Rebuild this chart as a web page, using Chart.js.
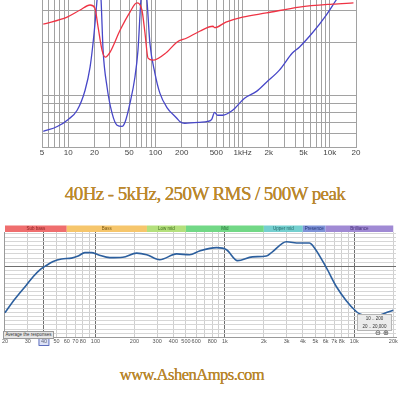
<!DOCTYPE html>
<html>
<head>
<meta charset="utf-8">
<script src="https://cdn.jsdelivr.net/npm/chart.js@4.4.1/dist/chart.umd.min.js"></script>
<style>
  html, body { margin:0; padding:0; background:#fff; }
  body { width:400px; height:400px; position:relative; overflow:hidden; }
  canvas { position:absolute; }
  .spec { position:absolute; left:0; width:410px; text-align:center; font-family:'Liberation Serif','DejaVu Serif',serif; color:#bf8a2a; white-space:nowrap; text-shadow:0 0 0.6px #8a5e14; }
  .ui { position:absolute; font-family:'Liberation Sans',sans-serif; color:#333; white-space:nowrap; }
</style>
</head>
<body>
<canvas id="topChart" width="400" height="159" style="left:0;top:0"></canvas>
<div class="spec" style="top:183px;font-size:19px;letter-spacing:-0.6px">40Hz - 5kHz, 250W RMS / 500W peak</div>
<canvas id="bottomChart" width="400" height="126" style="left:0;top:220px"></canvas>
<div class="ui" style="left:3px;top:331px;width:49px;height:6px;background:#e6e6e6;border:1px solid #9a9a9a;font-size:4.5px;line-height:6px;text-align:center">Average the responses</div>
<div class="ui" style="left:357px;top:314px;width:33px;height:15px;background:#ececec;border:1px solid #b5b5b5;font-size:4.5px;line-height:7.5px;text-align:center">10 .. 200<br>20 .. 20,000</div>
<div class="ui" style="left:375px;top:329px;font-size:7px;color:#444;font-family:'DejaVu Sans',sans-serif">⊖ ⊕</div>
<div class="spec" style="top:365px;width:384px;font-size:16.5px;letter-spacing:-0.5px">www.AshenAmps.com</div>

<script>
// ---------- Top chart (impedance-style sweep) ----------
const topBlueFreq = [5.17, 7.48, 10, 12.65, 15.6, 17.8, 19.8, 21.4, 22.7, 23.8, 25.1, 27.9, 31.8, 36.3, 41.4, 44.8, 51.1, 58.2, 63.1, 68.2, 73.8, 79.9, 86.4, 98.6, 112.5, 135, 176, 190, 217, 322, 397, 442, 478, 517, 590, 769, 1053, 1445, 1880, 2645, 3723, 4476, 6300, 9118, 11860, 14630];
const topBlueLevel = [5.4, 7.1, 9.5, 12.6, 19.4, 27.2, 38.8, 50, 58, 50, 33, 20.4, 11.6, 7.5, 7.1, 8.5, 15.0, 23.8, 33, 50, 58, 50, 35.4, 25.2, 18.4, 13.6, 9.9, 8.8, 8.2, 8.5, 8.8, 9.5, 11.9, 10.9, 10.9, 12.6, 16.7, 19.0, 22.1, 26.2, 32.0, 34.0, 38.8, 44.9, 50, 54];
const topRedFreq = [5.17, 9.7, 13.7, 17.8, 20.2, 22.0, 24.4, 26.6, 30.2, 39.4, 51.1, 61.2, 70.0, 75.9, 82.3, 93.5, 135, 176, 229, 322, 457, 478, 644, 1000, 1880, 4476, 10700, 18700];
const topRedLevel = [41.8, 44.2, 46.6, 48.3, 47.3, 40.8, 33, 30.6, 32.3, 39.8, 45.9, 49, 46.6, 38.8, 30.3, 29.6, 32.3, 35.7, 37.1, 39.4, 41.1, 40.6, 42.5, 44.2, 45.6, 47.6, 48.6, 49];
const topGridFreq = [5,6,7,8,9,10,20,30,40,50,60,70,80,90,100,200,300,400,500,600,700,800,900,1000,2000,3000,4000,5000,6000,7000,8000,9000,10000,20000];
const topLabelFreq = [5, 10, 20, 50, 100, 200, 500, 1000, 2000, 5000, 10000, 20000];
const topLabelText = ['5', '10', '20', '50', '100', '200', '500', '1kHz', '2k', '5k', '10k', '20'];
const topGridLevels = [0, 4.8, 8.5, 11.9, 15.0, 17.7, 35.7, 46.6];

// ---------- Bottom chart (frequency response) ----------
const respFreq = [20, 23.2, 26.1, 29.4, 33.1, 37.2, 40.7, 47.1, 54.7, 65.3, 73.5, 82.8, 93.2, 104.8, 129, 162.6, 208, 249, 313, 424, 534, 637, 863, 1030, 1252, 1632, 2094, 2330, 2986, 3760, 4494, 4910, 6080, 7260, 8670, 10350, 10920, 14260, 17940, 20000];
const respDb = [-11.1, -8.3, -6.3, -4.4, -2.4, -0.8, 0, 1.2, 1.8, 2.0, 2.5, 3.3, 3.3, 2.8, 2.1, 2.2, 3.2, 2.8, 1.6, 3.0, 2.8, 3.7, 4.5, 4.0, 1.4, 2.3, 2.5, 3.5, 5.9, 5.6, 5.6, 4.5, -0.3, -4.8, -8.2, -10.8, -11.3, -12.0, -11.0, -10.5];
const bottomGridFreq = [20,30,40,50,60,70,80,90,100,200,300,400,500,600,700,800,900,1000,2000,3000,4000,5000,6000,7000,8000,9000,10000,20000];
const bottomLabelFreq = [20,30,40,50,60,70,80,100,200,300,400,500,600,800,1000,2000,3000,4000,5000,6000,7000,8000,10000,20000];
const bottomLabelText = ['20','30','40','50','60','70','80','100','200','300','400','500','600','800','1k','2k','3k','4k','5k','6k','7k','8k','10k','20k'];
const bottomMajorFreq = [40, 100, 1000, 10000];
const bandEdges = [20, 60, 250, 500, 2000, 4000, 6000, 20000];
const bandNames = ['Sub bass', 'Bass', 'Low mid', 'Mid', 'Upper mid', 'Presence', 'Brilliance'];
const bandColors = ['#ef6e6e', '#f6c66c', '#b4e07c', '#72d886', '#74cfcf', '#7f93d8', '#a08ad4'];
const bandTextColors = ['#8a1f1f', '#7a5a12', '#3d6a1a', '#1f6a30', '#246a6a', '#26377a', '#47307a'];
const cutoffFreq = 40;

const zip = (xs, ys) => xs.map((x, i) => ({ x, y: ys[i] }));

new Chart(document.getElementById('topChart'), {
  type: 'line',
  data: {
    datasets: [
      { data: zip(topRedFreq, topRedLevel), borderColor: '#ee3344', borderWidth: 1.3, pointRadius: 0, cubicInterpolationMode: 'monotone' },
      { data: zip(topBlueFreq, topBlueLevel), borderColor: '#4747c8', borderWidth: 1.3, pointRadius: 0, cubicInterpolationMode: 'monotone' }
    ]
  },
  options: {
    responsive: false, animation: false, events: [],
    layout: { padding: { left: 42, right: 44, top: 0, bottom: 0 } },
    plugins: { legend: { display: false }, tooltip: { enabled: false } },
    scales: {
      x: {
        type: 'logarithmic', min: 5, max: 20000,
        afterBuildTicks: s => { s.ticks = topGridFreq.map(v => ({ value: v })); },
        ticks: {
          autoSkip: false, maxRotation: 0, padding: 1, color: '#444',
          font: { family: 'Liberation Sans', size: 8 },
          callback: v => { const i = topLabelFreq.indexOf(v); return i >= 0 ? topLabelText[i] : ''; }
        },
        grid: { color: '#a2a2a2', lineWidth: 1, drawTicks: false },
        border: { color: '#a2a2a2' }
      },
      y: {
        type: 'linear', min: 0, max: 50,
        afterBuildTicks: s => { s.ticks = topGridLevels.map(v => ({ value: v })); },
        ticks: { display: false },
        grid: { color: '#a2a2a2', lineWidth: 1, drawTicks: false },
        border: { display: false }
      }
    }
  }
});

const bottomDecor = {
  id: 'bottomDecor',
  afterDraw(chart) {
    const ctx = chart.ctx, x = chart.scales.x, a = chart.chartArea;
    ctx.save();
    const h = 6.5, top = a.top - h;
    for (let i = 0; i < bandNames.length; i++) {
      const x0 = x.getPixelForValue(bandEdges[i]), x1 = x.getPixelForValue(bandEdges[i + 1]);
      ctx.fillStyle = bandColors[i];
      ctx.fillRect(x0, top, x1 - x0, h);
      ctx.fillStyle = bandTextColors[i];
      ctx.font = '4.5px "Liberation Sans"';
      ctx.textAlign = 'center'; ctx.textBaseline = 'middle';
      ctx.fillText(bandNames[i], (x0 + x1) / 2, top + h / 2 + 0.3);
    }
    const cx = x.getPixelForValue(cutoffFreq);
    const ly = a.bottom + 4.5;
    ctx.fillStyle = 'rgba(120,140,220,0.25)';
    ctx.fillRect(cx - 5, ly - 3.5, 10, 7);
    ctx.strokeStyle = '#3a4fb0'; ctx.lineWidth = 0.8;
    ctx.strokeRect(cx - 5, ly - 3.5, 10, 7);
    ctx.restore();
  }
};

new Chart(document.getElementById('bottomChart'), {
  type: 'line',
  data: {
    datasets: [
      { data: zip(respFreq, respDb), borderColor: '#2c5f9e', borderWidth: 1.6, pointRadius: 0, cubicInterpolationMode: 'monotone' }
    ]
  },
  options: {
    responsive: false, animation: false, events: [],
    layout: { padding: { left: 4, right: 4, top: 12, bottom: 0 } },
    plugins: { legend: { display: false }, tooltip: { enabled: false } },
    scales: {
      x: {
        type: 'logarithmic', min: 19.65, max: 21000,
        afterBuildTicks: s => { s.ticks = bottomGridFreq.map(v => ({ value: v })); },
        ticks: {
          autoSkip: false, maxRotation: 0, padding: 1, color: '#555',
          font: { family: 'Liberation Sans', size: 5.5 },
          callback: v => { const i = bottomLabelFreq.indexOf(v); return i >= 0 ? bottomLabelText[i] : ''; }
        },
        grid: {
          drawTicks: false, lineWidth: 1,
          color: c => bottomMajorFreq.includes(c.tick && c.tick.value) ? '#6e6e6e' : '#cfcfcf'
        },
        border: { color: '#9a9a9a' }
      },
      y: {
        type: 'linear', min: -17, max: 8.25,
        afterBuildTicks: s => { const t = []; for (let v = -17; v <= 8; v++) t.push({ value: v }); s.ticks = t; },
        ticks: { display: false },
        grid: {
          drawTicks: false, lineWidth: 1,
          color: c => (c.tick && c.tick.value === 0) ? '#6e6e6e' : '#d6d6d6'
        },
        border: { color: '#9a9a9a' }
      }
    }
  },
  plugins: [bottomDecor]
});
</script>
</body>
</html>
